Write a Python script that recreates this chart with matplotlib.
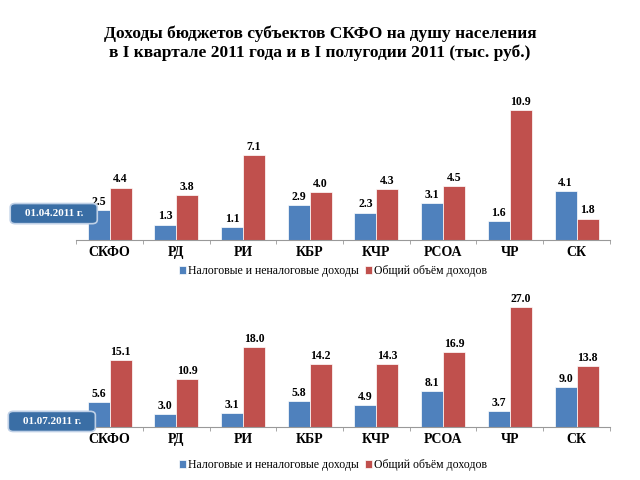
import numpy as np
import matplotlib
matplotlib.use('Agg')
import matplotlib.pyplot as plt
from matplotlib.patches import FancyBboxPatch

plt.rcParams['font.family'] = ['Liberation Serif', 'DejaVu Serif']

regions = ['СКФО', 'РД', 'РИ', 'КБР', 'КЧР', 'РСОА', 'ЧР', 'СК']
q1_tax = [2.5, 1.3, 1.1, 2.9, 2.3, 3.1, 1.6, 4.1]
q1_total = [4.4, 3.8, 7.1, 4.0, 4.3, 4.5, 10.9, 1.8]
h1_tax = [5.6, 3.0, 3.1, 5.8, 4.9, 8.1, 3.7, 9.0]
h1_total = [15.1, 10.9, 18.0, 14.2, 14.3, 16.9, 27.0, 13.8]
series_names = ['Налоговые и неналоговые доходы', 'Общий объём доходов']
dates = ['01.04.2011 г.', '01.07.2011 г.']

BLUE = '#4F81BD'
RED = '#C0504D'


def draw_panel(ax, tax, total, ymax):
    x = np.arange(len(regions))
    w = 0.33
    b1 = ax.bar(x - w / 2, tax, w, color=BLUE, edgecolor='white', linewidth=0.5)
    b2 = ax.bar(x + w / 2, total, w, color=RED, edgecolor='white', linewidth=0.5)
    for bars, vals in ((b1, tax), (b2, total)):
        for b, v in zip(bars, vals):
            ax.text(b.get_x() + b.get_width() / 2, v + ymax * 0.015, f'{v:.1f}',
                    ha='center', va='bottom', fontsize=8.5, fontweight='bold')
    ax.set_xlim(-0.5, len(regions) - 0.5)
    ax.set_ylim(0, ymax)
    ax.set_xticks(x)
    ax.set_xticklabels(regions, fontsize=10, fontweight='bold')
    ax.set_xticks(np.arange(len(regions) + 1) - 0.5, minor=True)
    ax.tick_params(axis='x', which='major', length=0, pad=4)
    ax.tick_params(axis='x', which='minor', length=3, color='#999999')
    ax.set_yticks([])
    for s in ('top', 'right', 'left'):
        ax.spines[s].set_visible(False)
    ax.spines['bottom'].set_color('#999999')
    return b1, b2


fig = plt.figure(figsize=(6.4, 4.8), dpi=100)
fig.text(0.5, 0.91, 'Доходы бюджетов субъектов СКФО на душу населения\n'
         'в I квартале 2011 года и в I полугодии 2011 (тыс. руб.)',
         ha='center', va='center', fontsize=12.5, fontweight='bold', linespacing=1.25)

ax1 = fig.add_axes([0.119, 0.5, 0.834, 0.298])
ax2 = fig.add_axes([0.119, 0.110, 0.834, 0.2775])

h = draw_panel(ax1, q1_tax, q1_total, 12)
draw_panel(ax2, h1_tax, h1_total, 30)

for y in (0.435, 0.031):
    fig.legend(h, series_names, loc='center', bbox_to_anchor=(0.52, y), ncol=2,
               frameon=False, fontsize=8.5, handlelength=0.6, handleheight=0.6,
               handletextpad=0.2, columnspacing=0.5)

for (x0, y0, label) in ((0.02, 0.538, dates[0]), (0.017, 0.105, dates[1])):
    box = FancyBboxPatch((x0, y0), 0.128, 0.034, boxstyle='round,pad=0.004,rounding_size=0.008',
                         transform=fig.transFigure, facecolor='#3A6EA5', edgecolor='#BFD0E6',
                         linewidth=1.2, zorder=5)
    fig.patches.append(box)
    fig.text(x0 + 0.064, y0 + 0.017, label, ha='center', va='center', color='white',
             fontsize=8, fontweight='bold', zorder=6)

fig.savefig('out.png', dpi=100, facecolor='white')
